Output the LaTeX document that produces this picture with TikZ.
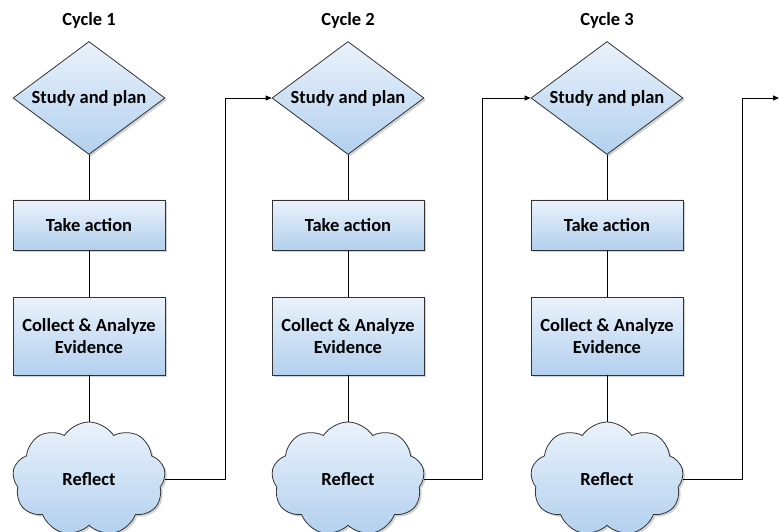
\documentclass[tikz,border=0pt]{standalone}
\usepackage{fontspec}
\setmainfont{Carlito}
\usepackage{tikz}
\usetikzlibrary{shapes.geometric,shapes.symbols,shadows,arrows.meta}
\tikzset{>={Triangle[length=6pt,width=5pt]}}
\definecolor{boxtop}{HTML}{EAF2FB}
\definecolor{boxbot}{HTML}{B2D0EE}
\tikzset{
  stage/.style={draw=black!80,line width=0.8pt,top color=boxtop,bottom color=boxbot,
    drop shadow={shadow xshift=2pt,shadow yshift=-2pt,opacity=0.35},
    font=\bfseries\fontsize{18.5}{22}\selectfont,align=center},
  planbox/.style={stage,diamond,aspect=1.35,minimum width=152pt,minimum height=113pt,inner sep=0pt},
  actbox/.style={stage,rectangle,minimum width=152pt,minimum height=50pt},
  evidbox/.style={stage,rectangle,minimum width=152pt,minimum height=78pt},
  reflectbox/.style={stage,cloud,cloud puffs=9,cloud puff arc=115,aspect=1.35,minimum width=153pt,minimum height=114pt},
  cyclelabel/.style={font=\bfseries\fontsize{18.5}{22}\selectfont}
}

\begin{document}
\begin{tikzpicture}[x=1pt,y=-1pt]
        \useasboundingbox (0,0) rectangle (780,532);
        % cycle 1
        \node[cyclelabel] (c1) at (89,20) {Cycle 1};
        \node[planbox] (s1) at (89,98) {Study and plan};
        \node[actbox] (t1) at (89,225) {Take action};
        \node[evidbox] (e1) at (89,336) {Collect \& Analyze\\Evidence};
        \node[reflectbox] (r1) at (89,479) {Reflect};
        % cycle 2
        \node[cyclelabel] (c2) at (348,20) {Cycle 2};
        \node[planbox] (s2) at (348,98) {Study and plan};
        \node[actbox] (t2) at (348,225) {Take action};
        \node[evidbox] (e2) at (348,336) {Collect \& Analyze\\Evidence};
        \node[reflectbox] (r2) at (348,479) {Reflect};
        % cycle 3
        \node[cyclelabel] (c3) at (607,20) {Cycle 3};
        \node[planbox] (s3) at (607,98) {Study and plan};
        \node[actbox] (t3) at (607,225) {Take action};
        \node[evidbox] (e3) at (607,336) {Collect \& Analyze\\Evidence};
        \node[reflectbox] (r3) at (607,479) {Reflect};
        \coordinate (next) at (779,98);
        % links inside each cycle
        \draw[line width=0.8pt] (s1) -- (t1) (t1) -- (e1) (e1) -- (r1);
        \draw[line width=0.8pt] (s2) -- (t2) (t2) -- (e2) (e2) -- (r2);
        \draw[line width=0.8pt] (s3) -- (t3) (t3) -- (e3) (e3) -- (r3);
        % from one cycle to the next
        \draw[line width=0.8pt,->] (r1.east) -- ++(61,0) |- (s2.west);
        \draw[line width=0.8pt,->] (r2.east) -- ++(59,0) |- (s3.west);
        \draw[line width=0.8pt,->] (r3.east) -- ++(60,0) |- (next);
      \end{tikzpicture}
\end{document}
